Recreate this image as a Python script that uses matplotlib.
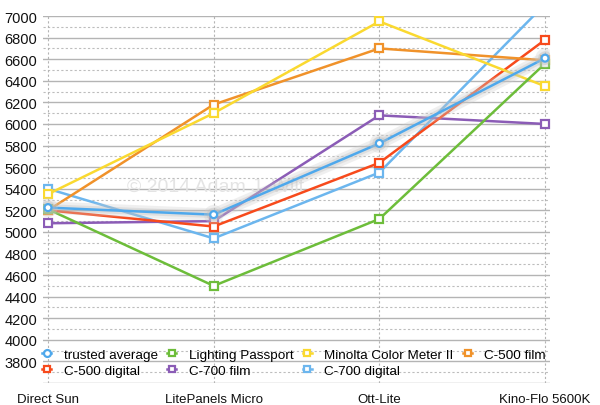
import matplotlib.pyplot as plt
import matplotlib.patheffects as pe

plt.rcParams['font.family'] = ['Liberation Sans', 'DejaVu Sans']

# 카테고리와 시리즈 값
categories = ["Direct Sun", "LitePanels Micro", "Ott-Lite", "Kino-Flo 5600K"]
trusted_average = [5225, 5160, 5820, 6610]
lighting_passport = [5210, 4500, 5120, 6560]
minolta = [5350, 6100, 6950, 6350]
c500_film = [5200, 6180, 6700, 6590]
c500_digital = [5200, 5050, 5640, 6780]
c700_film = [5080, 5100, 6080, 6000]
c700_digital = [5400, 4940, 5550, 7110]

y_ticks = list(range(3800, 7001, 200))

series = [
    ("trusted average", trusted_average, "#4ea8ec", "o"),
    ("Lighting Passport", lighting_passport, "#6dbd3a", "s"),
    ("Minolta Color Meter II", minolta, "#fad930", "s"),
    ("C-500 film", c500_film, "#f0922a", "s"),
    ("C-500 digital", c500_digital, "#f74a1c", "s"),
    ("C-700 film", c700_film, "#8b5cb6", "s"),
    ("C-700 digital", c700_digital, "#6cb6ee", "s"),
]

fig = plt.figure(figsize=(6, 4.06), dpi=100)
ax = fig.add_axes([0.0717, 0.0542, 0.845, 0.9038])

x = list(range(len(categories)))

# 격자선
for v in range(3600, 7001, 100):
    if v % 200 == 0:
        ax.axhline(v, color="#b4b4b4", lw=1.0, zorder=0)
    else:
        ax.axhline(v, color="#bdbdbd", lw=0.8, ls=(0, (2, 2)), zorder=0)
for xi in x:
    ax.axvline(xi, color="#b4b4b4", lw=0.8, ls=(0, (2, 2)), zorder=0)

# 워터마크
ax.text(0.34, 0.535, "© 2014 Adam J. Wilt", transform=ax.transAxes,
        ha="center", va="center", fontsize=14, color="#e4e4e4", zorder=0.5)

# 뒤에서부터 그려서 trusted average가 맨 위
for i, (name, vals, color, marker) in reversed(list(enumerate(series))):
    kw = dict(color=color, lw=1.8, marker=marker, markersize=6 if marker == "s" else 5,
              markerfacecolor="white", markeredgecolor=color, markeredgewidth=1.6,
              label=name, zorder=3 + (len(series) - i) * 0.1)
    if name == "trusted average":
        kw["path_effects"] = [pe.Stroke(linewidth=9, foreground="#cccccc", alpha=0.3),
                              pe.Stroke(linewidth=5, foreground="#b8b8b8", alpha=0.3),
                              pe.Normal()]
        kw["zorder"] = 5
    ax.plot(x, vals, **kw)

ax.set_xlim(-0.03, 3.03)
ax.set_ylim(3600, 7000)
ax.set_yticks(y_ticks)
ax.set_xticks(x)
ax.set_xticklabels(categories)
ax.tick_params(axis="both", length=0, colors="#111111")
ax.tick_params(axis="y", pad=4, labelsize=10.5)
ax.tick_params(axis="x", pad=7, labelsize=9.5)
for s in ax.spines.values():
    s.set_visible(False)

# 범례는 행 우선 순서로
handles, labels = ax.get_legend_handles_labels()
by_name = dict(zip(labels, handles))
names = [s[0] for s in series]
col_order = [0, 4, 1, 5, 2, 6, 3]
leg = ax.legend([by_name[names[k]] for k in col_order], [names[k] for k in col_order],
                ncol=4, loc="lower left", bbox_to_anchor=(-0.018, -0.005),
                frameon=False, fontsize=9.7, handlelength=0.7, handletextpad=0.9,
                columnspacing=0.7, labelspacing=0.25, borderaxespad=0.2)
for h in leg.legend_handles:
    h.set_path_effects([])
    h.set_markersize(5)

fig.savefig("out.png", dpi=100, facecolor="white")
